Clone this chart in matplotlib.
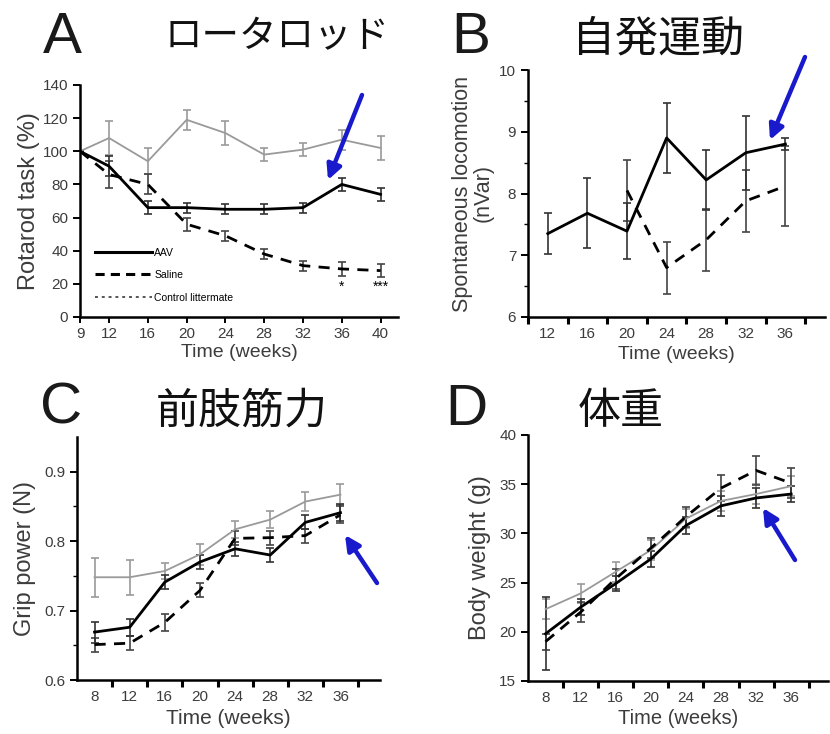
import matplotlib
matplotlib.use("Agg")
import matplotlib.pyplot as plt
from matplotlib.lines import Line2D

plt.rcParams['font.family'] = ['Liberation Sans', 'Noto Sans CJK JP', 'DejaVu Sans']

# --- A: rotarod ---
weeks_a = [9, 12, 16, 20, 24, 28, 32, 36, 40]
rotarod_aav = [100, 91, 66, 66, 65, 65, 66, 80, 74]
rotarod_aav_err = [0, 6, 4, 3, 3, 3, 3, 4, 4]
rotarod_saline = [100, 86, 80, 56, 49, 38, 31, 29, 28]
rotarod_saline_err = [0, 8, 6, 4, 3, 3, 3, 4, 4]
rotarod_ctrl = [100, 108, 94, 119, 111, 98, 101, 107, 102]
rotarod_ctrl_err = [0, 10, 8, 6, 7, 4, 4, 6, 7]

# --- B: spontaneous locomotion ---
weeks_b = [12, 16, 20, 24, 28, 32, 36]
loco_aav = [7.35, 7.68, 7.39, 8.9, 8.22, 8.66, 8.8]
loco_aav_err = [0.33, 0.57, 0.45, 0.57, 0.48, 0.6, 0.1]
weeks_b_saline = [20, 24, 28, 32, 36]
loco_saline = [8.05, 6.8, 7.25, 7.88, 8.12]
loco_saline_err = [0.5, 0.42, 0.5, 0.5, 0.65]

# --- C: grip power ---
weeks_cd = [8, 12, 16, 20, 24, 28, 32, 36]
grip_aav = [0.669, 0.676, 0.741, 0.770, 0.789, 0.780, 0.827, 0.841]
grip_aav_err = [0.015, 0.012, 0.01, 0.01, 0.01, 0.01, 0.01, 0.012]
grip_saline = [0.651, 0.653, 0.683, 0.729, 0.804, 0.805, 0.808, 0.838]
grip_saline_err = [0.01, 0.01, 0.012, 0.01, 0.01, 0.01, 0.01, 0.012]
grip_ctrl = [0.748, 0.748, 0.757, 0.781, 0.817, 0.831, 0.857, 0.867]
grip_ctrl_err = [0.028, 0.025, 0.012, 0.015, 0.012, 0.012, 0.014, 0.015]

# --- D: body weight ---
weight_aav = [19.8, 22.5, 24.9, 27.4, 30.8, 32.8, 33.6, 34.0]
weight_aav_err = [3.7, 0.8, 0.8, 0.8, 0.9, 1.0, 1.0, 0.8]
weight_saline = [19.0, 22.0, 25.4, 28.5, 31.7, 34.6, 36.4, 35.1]
weight_saline_err = [0.8, 1.0, 1.0, 1.0, 1.0, 1.3, 1.5, 1.5]
weight_ctrl = [22.3, 23.9, 26.1, 28.3, 31.5, 33.3, 34.0, 34.8]
weight_ctrl_err = [1.0, 1.0, 1.0, 1.0, 1.0, 1.0, 1.0, 1.0]

W, H = 830, 734
TXT = '#3c3c3c'
GRAY = '#9a9a9a'
ARROW = '#1a1acd'

fig = plt.figure(figsize=(W / 100, H / 100), dpi=100)


def px_axes(left, top, right, bottom):
    # pixel box (top-left origin) -> figure axes
    return fig.add_axes([left / W, 1 - bottom / H, (right - left) / W, (bottom - top) / H])


def style_axis(ax):
    for s in ['top', 'right']:
        ax.spines[s].set_visible(False)
    for s in ['left', 'bottom']:
        ax.spines[s].set_linewidth(1.8)
    ax.tick_params(axis='y', which='major', length=5, width=1.4, labelsize=11, labelcolor=TXT)
    ax.tick_params(axis='y', which='minor', length=3, width=1.0)


def series(ax, x, y, err, kind):
    if kind == 'aav':
        kw = dict(color='black', lw=2.0, ls='-', ecolor='#333333')
    elif kind == 'saline':
        kw = dict(color='black', lw=2.0, ls=(0, (4, 3)), ecolor='#444444')
    else:
        kw = dict(color=GRAY, lw=1.3, ls='-', ecolor=GRAY)
    ax.errorbar(x, y, yerr=err, capsize=3, elinewidth=1.2, capthick=1.2, **kw)


def between_ticks(ax, label_weeks, left, right):
    ax.set_xlim(left, right)
    ax.set_xticks(list(range(10, 39, 4)))
    ax.set_xticklabels([])
    ax.set_xticks(label_weeks, minor=True)
    ax.set_xticklabels([str(w) for w in label_weeks], minor=True)
    ax.tick_params(axis='x', which='major', length=5, width=2.2)
    ax.tick_params(axis='x', which='minor', length=0, pad=7, labelsize=11, labelcolor=TXT)


# Panel A
axA = px_axes(80, 85, 398, 317)
style_axis(axA)
series(axA, weeks_a, rotarod_ctrl, rotarod_ctrl_err, 'ctrl')
series(axA, weeks_a, rotarod_saline, rotarod_saline_err, 'saline')
series(axA, weeks_a, rotarod_aav, rotarod_aav_err, 'aav')
axA.set_xlim(9, 41.8)
axA.set_ylim(0, 140)
axA.set_yticks(range(0, 141, 20))
axA.set_xticks(weeks_a)
axA.tick_params(axis='x', length=4, width=1.4, labelsize=11, labelcolor=TXT)
axA.set_xlabel('Time (weeks)', fontsize=14, color=TXT, labelpad=2)
axA.set_ylabel('Rotarod task (%)', fontsize=17, color=TXT, labelpad=2)
axA.text(36, 16, '*', ha='center', fontsize=10)
axA.text(40, 16, '***', ha='center', fontsize=10)
handles = [Line2D([], [], color='black', lw=2.2),
           Line2D([], [], color='black', lw=2.2, ls=(0, (3, 2))),
           Line2D([], [], color='#555555', lw=1.4, ls=(0, (1.5, 2)))]
axA.legend(handles, ['AAV', 'Saline', 'Control littermate'], loc='lower left',
           bbox_to_anchor=(0.03, 0.04), frameon=False, fontsize=7.5,
           handlelength=5.5, labelspacing=1.2, handletextpad=0.2, borderpad=0)

# Panel B
axB = px_axes(528, 70, 825, 317)
style_axis(axB)
series(axB, weeks_b_saline, loco_saline, loco_saline_err, 'saline')
series(axB, weeks_b, loco_aav, loco_aav_err, 'aav')
axB.set_ylim(6, 10)
axB.set_yticks([6, 7, 8, 9, 10])
axB.set_yticks([6.5, 7.5, 8.5, 9.5], minor=True)
between_ticks(axB, weeks_b, 10, 40)
axB.set_xlabel('Time (weeks)', fontsize=14, color=TXT, labelpad=4)
axB.set_ylabel('Spontaneous locomotion\n(nVar)', fontsize=15.5, color=TXT,
               labelpad=4, linespacing=0.95)

# Panel C
axC = px_axes(77, 437, 380, 680)
style_axis(axC)
series(axC, weeks_cd, grip_ctrl, grip_ctrl_err, 'ctrl')
series(axC, weeks_cd, grip_saline, grip_saline_err, 'saline')
series(axC, weeks_cd, grip_aav, grip_aav_err, 'aav')
axC.set_ylim(0.6, 0.95)
axC.set_yticks([0.6, 0.7, 0.8, 0.9])
axC.set_yticklabels(['0.6', '0.7', '0.8', '0.9'])
axC.set_yticks([0.65, 0.75, 0.85], minor=True)
between_ticks(axC, weeks_cd, 6, 40.5)
axC.set_xlabel('Time (weeks)', fontsize=15, color=TXT, labelpad=4)
axC.set_ylabel('Grip power (N)', fontsize=17, color=TXT, labelpad=6)

# Panel D
axD = px_axes(528, 435, 828, 681)
style_axis(axD)
series(axD, weeks_cd, weight_ctrl, weight_ctrl_err, 'ctrl')
series(axD, weeks_cd, weight_saline, weight_saline_err, 'saline')
series(axD, weeks_cd, weight_aav, weight_aav_err, 'aav')
axD.set_ylim(15, 40)
axD.set_yticks(range(15, 41, 5))
between_ticks(axD, weeks_cd, 6, 40.2)
axD.set_xlabel('Time (weeks)', fontsize=14.5, color=TXT, labelpad=3)
axD.set_ylabel('Body weight (g)', fontsize=17, color=TXT, labelpad=6)

# panel letters and Japanese titles
letters = [('A', 62, 38), ('B', 471, 38), ('C', 61, 408), ('D', 466, 410)]
for s, x, y in letters:
    fig.text(x / W, 1 - y / H, s, ha='center', va='center', fontsize=42, color='#1a1a1a')

titles = [('ロータロッド', 277, 37, 27), ('自発運動', 658, 39, 31),
          ('前肢筋力', 242, 412, 31), ('体重', 621, 412, 31)]
for s, x, y, fs in titles:
    fig.text(x / W, 1 - y / H, s, ha='center', va='center', fontsize=fs,
             family=['Noto Sans CJK JP', 'DejaVu Sans'], color='#111111')

# blue arrows (tail -> head, pixel coords from top-left)
arrows = [((362, 95), (328, 180)), ((805, 57), (770, 140)),
          ((377, 583), (345, 535)), ((795, 560), (763, 508))]
for (tx, ty), (hx, hy) in arrows:
    fig.add_artist(matplotlib.patches.FancyArrowPatch(
        (tx, H - ty), (hx, H - hy), transform=None, arrowstyle='-|>',
        mutation_scale=22, lw=3.2, color=ARROW, shrinkA=0, shrinkB=0))

fig.savefig('out.png', dpi=100)
